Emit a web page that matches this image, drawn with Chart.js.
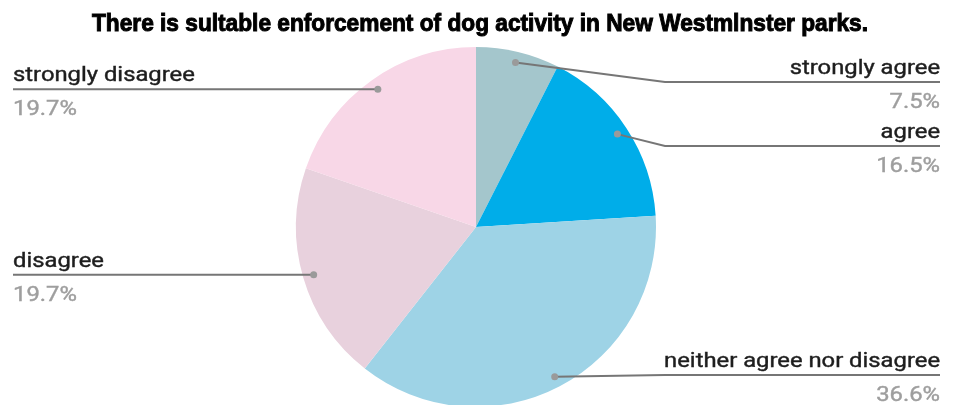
<!DOCTYPE html>
<html>
<head>
<meta charset="utf-8">
<script src="https://cdn.jsdelivr.net/npm/chart.js@4.4.1/dist/chart.umd.min.js"></script>
<style>
  html, body { margin: 0; padding: 0; background: #fff; overflow: hidden; }
  #wrap { width: 956px; height: 410px; }
</style>
</head>
<body>
<div id="wrap"><canvas id="chart"></canvas></div>
<script>
// survey answers, clockwise from 12 o'clock
const answers = ["strongly agree", "agree", "neither agree nor disagree", "disagree", "strongly disagree"]
const shares = [7.5, 16.5, 36.6, 19.7, 19.7]
const sliceColors = ["#a4c6cc", "#00ade9", "#9ed3e6", "#e8d1dd", "#f8d7e7"]
const heading = "There is sultable enforcement of dog activity in New Westmlnster parks."

// text drawn wider or narrower than the font's natural width
function wideText(ctx, text, x, y, align, stretch, outline) {
    let w = ctx.measureText(text).width * stretch
    let left = align == "right" ? x - w : align == "center" ? x - w / 2 : x
    ctx.save()
    ctx.textAlign = "left"
    ctx.translate(left, y)
    ctx.scale(stretch, 1)
    ctx.fillText(text, 0, 0)
    if (outline) {
        ctx.lineWidth = outline
        ctx.strokeStyle = ctx.fillStyle
        ctx.strokeText(text, 0, 0)
    }
    ctx.restore()
}

// title plus labels outside the pie with a leader line and a dot on the slice
const calloutLabels = {
    id: "calloutLabels",
    afterDraw(chart) {
        let ctx = chart.ctx
        let meta = chart.getDatasetMeta(0)
        let arcs = meta.data
        let cx = arcs[0].x, cy = arcs[0].y, R = arcs[0].outerRadius

        ctx.save()
        ctx.font = "bold 24px 'Liberation Sans'"
        ctx.fillStyle = "#000"
        ctx.textBaseline = "alphabetic"
        let tw = ctx.measureText(heading).width
        wideText(ctx, heading, 480, 31, "center", 776 / tw, 1)
        ctx.restore()

        let items = arcs.map((arc, i) => {
            let mid = (arc.startAngle + arc.endAngle) / 2
            let dx = cx + Math.cos(mid) * R * 0.94
            let dy = cy + Math.sin(mid) * R * 0.94
            return { i, dx, dy, right: Math.cos(mid) >= 0 }
        })

        // stack lines on each side so the text blocks don't overlap
        for (let side of [true, false]) {
            let list = items.filter(it => it.right == side).sort((a, b) => a.dy - b.dy)
            let prev = -Infinity
            for (let it of list) {
                let y = Math.max(it.dy, 82, prev + 64)
                it.ly = Math.min(y, 375)
                prev = it.ly
            }
        }

        ctx.save()
        for (let it of items) {
            let breakX = it.right ? cx + R + 9 : cx - R + 9
            let endX = it.right ? 940 : 13

            ctx.strokeStyle = "#767676"
            ctx.lineWidth = 2
            ctx.beginPath()
            ctx.moveTo(it.dx, it.dy)
            if (it.right || it.dx > breakX) {
                ctx.lineTo(breakX, it.ly)
            } else {
                ctx.lineTo(it.dx, it.ly)
            }
            ctx.lineTo(endX, it.ly)
            ctx.stroke()

            ctx.fillStyle = "#9a9a9a"
            ctx.beginPath()
            ctx.arc(it.dx, it.dy, 3.5, 0, Math.PI * 2)
            ctx.fill()

            let align = it.right ? "right" : "left"
            ctx.textBaseline = "alphabetic"
            ctx.font = "20px Roboto"
            ctx.fillStyle = "#1e1e1e"
            wideText(ctx, answers[it.i], endX, it.ly - 8, align, 1.19, 0.4)
            ctx.fillStyle = "#9e9e9e"
            wideText(ctx, shares[it.i].toFixed(1) + "%", endX, it.ly + 26, align, 1.19, 0.4)
        }
        ctx.restore()
    }
}

let chart = new Chart("chart", {
    type: "pie",
    data: {
        labels: answers,
        datasets: [
            {
                data: shares,
                backgroundColor: sliceColors,
                borderWidth: 0
            }
        ]
    },
    options: {
        responsive: true,
        maintainAspectRatio: false,
        animation: false,
        layout: {
            padding: { left: 296, right: 300, top: 47, bottom: 3 }
        },
        plugins: {
            legend: { display: false },
            tooltip: { enabled: false },
            title: { display: false }
        }
    },
    plugins: [calloutLabels]
})
</script>
</body>
</html>
